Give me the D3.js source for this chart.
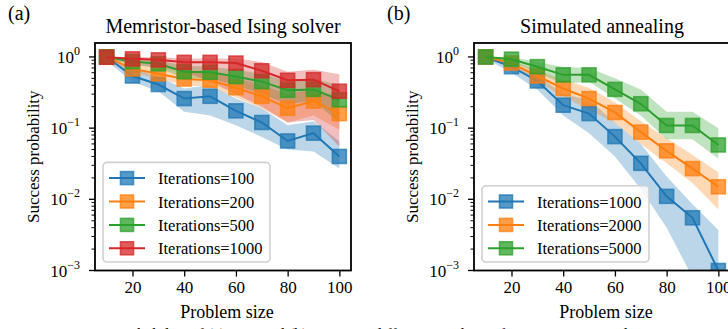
<!DOCTYPE html>
<html>
<head>
<meta charset="utf-8">
<script src="https://cdn.jsdelivr.net/npm/d3@7"></script>
<style>
  body { margin: 0; background: #fff; }
  svg text { font-family: "Liberation Serif", "Times New Roman", serif; fill: #000; }
</style>
</head>
<body>
<svg id="chart" width="728" height="329"></svg>
<script>
// problem sizes (x values)
var sizes = [10, 20, 30, 40, 50, 60, 70, 80, 90, 100];
var colors = ["#1f77b4", "#ff7f0e", "#2ca02c", "#d62728"];

// (a) memristor-based Ising solver
var misLabels = ["Iterations=100", "Iterations=200", "Iterations=500", "Iterations=1000"];
var mis100   = [1.0, 0.54, 0.41, 0.26, 0.28, 0.175, 0.12, 0.066, 0.085, 0.04];
var mis100Lo = [0.88, 0.45, 0.33, 0.17, 0.15, 0.11, 0.075, 0.05, 0.047, 0.027];
var mis100Hi = [1.0, 0.7, 0.53, 0.36, 0.4, 0.26, 0.19, 0.11, 0.125, 0.065];
var mis200   = [1.0, 0.68, 0.58, 0.49, 0.47, 0.37, 0.28, 0.19, 0.24, 0.16];
var mis200Lo = [0.95, 0.6, 0.5, 0.4, 0.38, 0.27, 0.19, 0.12, 0.15, 0.095];
var mis200Hi = [1.0, 0.8, 0.7, 0.62, 0.6, 0.5, 0.4, 0.3, 0.36, 0.27];
var mis500   = [1.0, 0.86, 0.8, 0.62, 0.61, 0.53, 0.45, 0.34, 0.35, 0.25];
var mis500Lo = [0.97, 0.78, 0.7, 0.5, 0.5, 0.4, 0.3, 0.22, 0.24, 0.12];
var mis500Hi = [1.0, 0.93, 0.9, 0.75, 0.73, 0.66, 0.58, 0.46, 0.5, 0.4];
var mis1000   = [0.99, 0.94, 0.91, 0.84, 0.84, 0.82, 0.64, 0.47, 0.48, 0.33];
var mis1000Lo = [0.95, 0.8, 0.7, 0.62, 0.45, 0.3, 0.2, 0.12, 0.13, 0.055];
var mis1000Hi = [1.0, 1.0, 1.0, 0.95, 0.95, 0.95, 0.85, 0.62, 0.66, 0.57];

// (b) simulated annealing
var saLabels = ["Iterations=1000", "Iterations=2000", "Iterations=5000"];
var sa1000   = [1.0, 0.73, 0.46, 0.21, 0.16, 0.076, 0.032, 0.011, 0.0055, 0.001];
var sa1000Lo = [0.95, 0.6, 0.35, 0.15, 0.085, 0.04, 0.014, 0.004, 0.0008, 0.0001];
var sa1000Hi = [1.0, 0.82, 0.56, 0.3, 0.25, 0.12, 0.06, 0.021, 0.0085, 0.0037];
var sa2000   = [1.0, 0.82, 0.54, 0.36, 0.26, 0.166, 0.088, 0.048, 0.027, 0.015];
var sa2000Lo = [0.97, 0.74, 0.45, 0.28, 0.18, 0.12, 0.06, 0.032, 0.017, 0.0072];
var sa2000Hi = [1.0, 0.9, 0.65, 0.48, 0.37, 0.23, 0.125, 0.072, 0.042, 0.024];
var sa5000   = [1.0, 0.93, 0.73, 0.56, 0.56, 0.35, 0.22, 0.109, 0.109, 0.058];
var sa5000Lo = [0.98, 0.85, 0.6, 0.42, 0.45, 0.26, 0.15, 0.07, 0.07, 0.037];
var sa5000Hi = [1.0, 1.0, 0.85, 0.72, 0.7, 0.5, 0.35, 0.17, 0.17, 0.1];

var xTicks = [20, 40, 60, 80, 100];
var yTicks = [1, 0.1, 0.01, 0.001];
var yTickExp = ["0", "\u22121", "\u22122", "\u22123"];

var svg = d3.select("#chart");
var plotTop = 43, plotBottom = 270.5, panelW = 256;
var mk = 14; // marker side

function drawPanel(left, tag, title, labels, series, id) {
  var x = d3.scaleLinear().domain([5.5, 104.5]).range([left, left + panelW]);
  var y = d3.scaleLog().domain([1e-3, 1.57]).range([plotBottom, plotTop]);
  var g = svg.append("g");

  g.append("clipPath").attr("id", id)
    .append("rect").attr("x", left).attr("y", plotTop).attr("width", panelW).attr("height", plotBottom - plotTop);
  var plot = g.append("g").attr("clip-path", "url(#" + id + ")");

  var area = d3.area()
    .x(function(d) { return x(d.x); })
    .y0(function(d) { return y(Math.max(d.lo, 1e-6)); })
    .y1(function(d) { return y(d.hi); });
  var line = d3.line()
    .x(function(d) { return x(d.x); })
    .y(function(d) { return y(d.v); });

  var rows = series.map(function(s) {
    return sizes.map(function(v, i) { return {x: v, v: s.v[i], lo: s.lo[i], hi: s.hi[i]}; });
  });

  // bands first, then the lines (matplotlib zorder)
  rows.forEach(function(r, k) {
    plot.append("path").attr("d", area(r)).attr("fill", colors[k]).attr("fill-opacity", 0.3);
  });
  rows.forEach(function(r, k) {
    plot.append("path").attr("d", line(r)).attr("fill", "none")
      .attr("stroke", colors[k]).attr("stroke-width", 2);
    plot.selectAll(null).data(r).enter().append("rect")
      .attr("x", function(d) { return x(d.x) - mk / 2; })
      .attr("y", function(d) { return y(d.v) - mk / 2; })
      .attr("width", mk).attr("height", mk)
      .attr("fill", colors[k]).attr("fill-opacity", 0.75)
      .attr("stroke", colors[k]).attr("stroke-opacity", 0.75).attr("stroke-width", 1.6);
  });

  // x axis
  var xa = g.append("g").attr("transform", "translate(0," + plotBottom + ")")
    .call(d3.axisBottom(x).tickValues(xTicks).tickSize(6).tickPadding(4));
  xa.select(".domain").remove();
  xa.selectAll(".tick line").attr("stroke", "#000").attr("stroke-width", 1.3);
  xa.selectAll(".tick text").attr("font-size", 17).attr("font-family", "Liberation Serif").attr("fill", "#000");

  // y axis: minor ticks
  var minors = [];
  for (var e = -3; e < 0; e++) for (var m = 2; m < 10; m++) minors.push(m * Math.pow(10, e));
  g.selectAll(null).data(minors).enter().append("line")
    .attr("x1", left - 3.5).attr("x2", left)
    .attr("y1", function(d) { return y(d); }).attr("y2", function(d) { return y(d); })
    .attr("stroke", "#000").attr("stroke-width", 1);
  g.selectAll(null).data(yTicks).enter().append("line")
    .attr("x1", left - 6).attr("x2", left)
    .attr("y1", function(d) { return y(d); }).attr("y2", function(d) { return y(d); })
    .attr("stroke", "#000").attr("stroke-width", 1.3);
  var yl = g.selectAll(null).data(yTicks).enter().append("text")
    .attr("x", left - 15).attr("y", function(d) { return y(d) + 6; })
    .attr("text-anchor", "end").attr("font-size", 17);
  yl.append("tspan").text("10");
  yl.append("tspan").attr("dy", -8).attr("font-size", 12)
    .text(function(d, i) { return yTickExp[i]; });

  // frame
  g.append("rect").attr("x", left).attr("y", plotTop).attr("width", panelW).attr("height", plotBottom - plotTop)
    .attr("fill", "none").attr("stroke", "#000").attr("stroke-width", 1.8);

  // texts
  g.append("text").attr("x", left + panelW / 2).attr("y", 33).attr("text-anchor", "middle")
    .attr("font-size", 20).text(title);
  g.append("text").attr("x", left - 87).attr("y", 20).attr("font-size", 20).text(tag);
  g.append("text").attr("x", left + panelW / 2 + 4).attr("y", 318).attr("text-anchor", "middle")
    .attr("font-size", 18).text("Problem size");
  g.append("text").attr("transform", "translate(" + (left - 56) + "," + ((plotTop + plotBottom) / 2) + ") rotate(-90)")
    .attr("text-anchor", "middle").attr("font-size", 17).text("Success probability");

  // legend
  var n = labels.length, rowH = 23.4;
  var lx = left + 8, lw = 167, lh = n * rowH + 6, ly = plotBottom - 8.5 - lh;
  g.append("rect").attr("x", lx).attr("y", ly).attr("width", lw).attr("height", lh).attr("rx", 4)
    .attr("fill", "#fff").attr("fill-opacity", 0.8).attr("stroke", "#d0d0d0").attr("stroke-width", 1.6);
  labels.forEach(function(lab, k) {
    var cy = ly + 3 + rowH * (k + 0.5) + 1;
    g.append("line").attr("x1", lx + 6).attr("x2", lx + 42).attr("y1", cy).attr("y2", cy)
      .attr("stroke", colors[k]).attr("stroke-width", 2);
    g.append("rect").attr("x", lx + 24 - 6.5).attr("y", cy - 6.5).attr("width", 13).attr("height", 13)
      .attr("fill", colors[k]).attr("fill-opacity", 0.75)
      .attr("stroke", colors[k]).attr("stroke-opacity", 0.75).attr("stroke-width", 1.6);
    g.append("text").attr("x", lx + 55).attr("y", cy + 6).attr("font-size", 16.5).text(lab);
  });
}

drawPanel(95, "(a)", "Memristor-based Ising solver", misLabels, [
  {v: mis100, lo: mis100Lo, hi: mis100Hi},
  {v: mis200, lo: mis200Lo, hi: mis200Hi},
  {v: mis500, lo: mis500Lo, hi: mis500Hi},
  {v: mis1000, lo: mis1000Lo, hi: mis1000Hi}
], "clipA");

drawPanel(474, "(b)", "Simulated annealing", saLabels, [
  {v: sa1000, lo: sa1000Lo, hi: sa1000Hi},
  {v: sa2000, lo: sa2000Lo, hi: sa2000Hi},
  {v: sa5000, lo: sa5000Lo, hi: sa5000Hi}
], "clipB");

// caption, cut off by the bottom edge
svg.append("text").attr("x", 8).attr("y", 340).attr("font-size", 16)
  .text("Fig. 15. Success probability of (a) MIS and (b) SA using different numbers of iterations. For each");
</script>
</body>
</html>
